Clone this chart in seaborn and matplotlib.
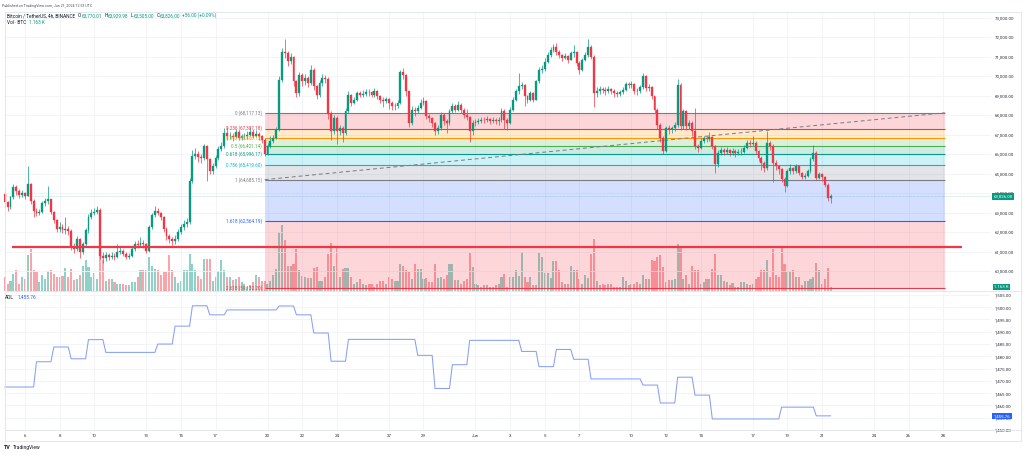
import numpy as np
import pandas as pd
import matplotlib
matplotlib.use("Agg")
import matplotlib.pyplot as plt
import matplotlib.dates as mdates
import seaborn as sns

sns.set_theme(style="white")
plt.rcParams["font.family"] = ["Roboto", "DejaVu Sans"]

# ---------------- data (BTC/USDT 4h, Binance) ----------------
first_open = 63950.0
closes = [
    63520, 63270, 63780, 64290, 64110, 63900, 63980, 63870, 64450, 63600,
    63100, 63000, 63050, 63500, 63600, 63680, 63020, 62600, 62150, 62250,
    62100, 62150, 62050, 61250, 61150, 61650, 60980, 61400, 62080, 62750,
    63000, 63050, 63150, 60750, 60650, 60800, 60720, 60780, 60700, 60980,
    61050, 60880, 60720, 60750, 61150, 61400, 61350, 61450, 61400, 61050,
    62250, 62850, 63100, 63000, 62750, 62150, 61800, 61650, 61560, 61650,
    62000, 62250, 62400, 62500, 64620, 65900, 66000, 65850, 65800, 66400,
    65720, 65130, 65400, 65800, 66240, 66400, 67090, 66900, 66950, 66850,
    67150, 66830, 66900, 66950, 67000, 67150, 66950, 67050, 66900, 66700,
    66000, 66400, 66650, 66830, 67250, 69800, 71250, 71170, 70750, 71000,
    69720, 69130, 70060, 69720, 69900, 69650, 70330, 69470, 69050, 69640,
    69900, 69850, 68030, 67170, 67850, 67170, 67350, 67090, 68200, 69050,
    68620, 68790, 69130, 69050, 69100, 69200, 69180, 69050, 69250, 68960,
    68790, 68700, 68800, 68620, 68450, 68450, 68620, 70230, 70060, 69210,
    67600, 68280, 68200, 68360, 68620, 68700, 67940, 67850, 67600, 67170,
    67350, 68020, 67680, 67600, 68200, 68450, 68280, 68530, 68280, 68020,
    67900, 67170, 67600, 67650, 67700, 67750, 67720, 67780, 67700, 67750,
    67680, 67720, 68200, 67770, 67600, 68280, 68790, 69210, 69470, 69550,
    68960, 68790, 69130, 68790, 69720, 70320, 70370, 70740, 71080, 71340,
    71510, 71250, 71080, 70950, 71050, 70830, 71170, 71250, 70660, 70320,
    70830, 71080, 71510, 71000, 69130, 69250, 69350, 69300, 69250, 69350,
    69250, 69130, 69080, 69180, 69300, 69590, 69520, 69590, 69250, 69210,
    69420, 69980, 69380, 69420, 68960, 68280, 67510, 66830, 66150, 67340,
    67260, 67310, 67510, 69550, 67430, 68190, 67430, 67600, 67170, 66410,
    66320, 66660, 66800, 66750, 66870, 66410, 65470, 66070, 66190, 66120,
    66190, 66070, 66150, 66050, 66100, 66120, 66320, 66580, 66490, 66580,
    66150, 65810, 65560, 65300, 66580, 66410, 65560, 65390, 65220, 64710,
    64370, 65130, 65270, 65130, 65390, 65050, 64830, 64880, 65130, 65730,
    66070, 64790, 64960, 64800, 64420, 63770, 63826,
]
highs = [
    64150, 63600, 63850, 64450, 64400, 64200, 64150, 64050, 65400, 64500,
    63700, 63250, 63200, 63600, 63750, 64350, 63700, 63100, 62650, 62500,
    62400, 62750, 62300, 62150, 61450, 61800, 61700, 61500, 62200, 62900,
    63200, 63250, 63350, 63250, 60950, 60950, 60900, 60950, 60900, 61400,
    61250, 61150, 60950, 60900, 61250, 61550, 61600, 61750, 61600, 61450,
    62350, 62950, 63350, 63250, 63050, 62800, 62250, 61900, 61750, 61850,
    62150, 62400, 62600, 62700, 64750, 66200, 66300, 66150, 66000, 66500,
    66450, 65800, 65550, 65950, 66400, 66600, 67350, 67400, 67150, 67100,
    67300, 67250, 67050, 67100, 67200, 67400, 67300, 67250, 67150, 67000,
    66800, 66550, 66900, 67000, 67400, 70000, 71450, 71900, 71300, 71200,
    71050, 69800, 70200, 70150, 70100, 70000, 70550, 70400, 69550, 69800,
    70100, 70050, 69950, 68200, 68000, 67950, 67500, 67450, 68350, 69250,
    69100, 68950, 69250, 69250, 69300, 69350, 69350, 69250, 69400, 69300,
    69050, 68900, 68950, 68850, 68700, 68600, 68750, 70300, 70400, 70100,
    69250, 68450, 68400, 68500, 68800, 68900, 68750, 68050, 67900, 67650,
    67500, 68150, 68100, 67800, 68300, 68600, 68550, 68700, 68600, 68350,
    68300, 67950, 67750, 67800, 67850, 67900, 67900, 67950, 67850, 67900,
    67850, 67900, 68350, 68300, 67850, 68400, 68900, 69350, 70150, 69700,
    69600, 69050, 69250, 69200, 69800, 70450, 70550, 70900, 71250, 71500,
    71650, 71700, 71350, 71150, 71200, 71100, 71300, 71600, 71300, 70750,
    70950, 71250, 71900, 71600, 71100, 69450, 69500, 69450, 69450, 69500,
    69400, 69350, 69250, 69300, 69450, 69700, 69700, 69750, 69650, 69400,
    69550, 70150, 70050, 69600, 69500, 69000, 68350, 67600, 66900, 67450,
    67500, 67450, 67650, 69850, 69650, 68300, 68250, 67750, 67700, 68350,
    66500, 66800, 66950, 66950, 67150, 66950, 66450, 66200, 66350, 66300,
    66350, 66250, 66300, 66250, 66250, 66300, 66450, 66700, 66700, 66900,
    66650, 66200, 65900, 65650, 67200, 66650, 66500, 65700, 65450, 65300,
    64800, 65250, 65500, 65350, 65500, 65450, 65100, 65050, 65250, 65850,
    66450, 66150, 65100, 65050, 64850, 64500, 63930,
]
lows = [
    63300, 63100, 63200, 63700, 63900, 63750, 63780, 63700, 63850, 63450,
    62750, 62800, 62850, 62950, 63350, 63450, 62900, 62450, 62000, 62000,
    61950, 61900, 61850, 61100, 60900, 61050, 60650, 60850, 61300, 61950,
    62650, 62850, 62900, 60600, 60400, 60500, 60550, 60600, 60550, 60650,
    60850, 60750, 60600, 60600, 60700, 61050, 61200, 61250, 61200, 60900,
    60950, 62150, 62750, 62850, 62600, 62000, 61600, 61450, 61350, 61400,
    61550, 61900, 62100, 62250, 62400, 64500, 65750, 65600, 65550, 65700,
    64600, 64950, 65000, 65300, 65700, 66150, 66300, 66700, 66750, 66650,
    66800, 66700, 66700, 66750, 66750, 66900, 66800, 66850, 66700, 66550,
    65900, 65950, 66300, 66550, 66750, 67200, 69700, 70950, 70500, 70600,
    69500, 68900, 69000, 69500, 69550, 69450, 69550, 69300, 68800, 68950,
    69500, 69650, 67800, 66700, 67050, 66500, 67000, 66600, 67000, 68100,
    68450, 68550, 68700, 68900, 68950, 69000, 69000, 68900, 68950, 68800,
    68600, 68400, 68600, 68300, 68250, 68250, 68350, 68550, 69850, 69000,
    67400, 67500, 67950, 68100, 68300, 68500, 67800, 67650, 67400, 67000,
    67050, 67250, 67500, 67100, 67500, 68100, 68150, 68200, 68100, 67850,
    67750, 66600, 67000, 67450, 67550, 67600, 67600, 67650, 67550, 67600,
    67550, 67500, 67650, 67300, 67250, 67550, 68200, 68700, 69100, 69350,
    68450, 68600, 68700, 68650, 68750, 69650, 70150, 70250, 70650, 71000,
    71250, 71100, 70900, 70750, 70850, 70650, 70800, 71000, 70500, 70100,
    70250, 70750, 71000, 70850, 68400, 68950, 69100, 69150, 69050, 69150,
    69100, 68950, 68950, 69000, 69100, 69250, 69400, 69400, 69100, 69050,
    69150, 69350, 69250, 69250, 68800, 68100, 67300, 66600, 65980, 66100,
    67050, 67100, 67200, 67400, 67250, 67300, 67250, 67300, 66950, 66250,
    66100, 66250, 66550, 66600, 66650, 66250, 65050, 65350, 65950, 65950,
    66000, 65900, 65950, 65850, 65950, 65950, 66050, 66250, 66350, 66400,
    66000, 65650, 65200, 65100, 65200, 66200, 64550, 65200, 65000, 64550,
    64050, 64300, 65000, 64950, 65050, 64900, 64700, 64700, 64800, 65050,
    65650, 64650, 64700, 64600, 64300, 63600, 63505,
]
# volume in thousands of BTC
volume_k = [
    4.4, 2.2, 3.3, 5.5, 6.7, 2.0, 4.4, 3.9, 11.7, 13.9,
    6.7, 6.0, 2.8, 5.0, 3.9, 6.4, 6.9, 5.6, 4.6, 4.4,
    4.7, 7.6, 4.4, 7.2, 3.6, 3.9, 5.0, 8.3, 10.2, 7.8,
    4.4, 5.8, 3.9, 13.9, 10.0, 3.1, 3.9, 3.9, 2.8, 2.2,
    2.0, 2.0, 1.7, 1.7, 2.8, 2.8, 4.4, 6.7, 6.9, 6.9,
    11.1, 8.3, 7.2, 6.9, 5.0, 6.1, 6.1, 11.7, 6.7, 4.4,
    2.4, 3.1, 6.7, 6.7, 12.2, 8.9, 6.7, 4.7, 3.9, 10.4,
    10.4, 10.4, 3.3, 4.4, 6.4, 10.0, 6.7, 4.4, 4.4, 3.6,
    3.9, 4.4, 2.8, 2.2, 1.3, 1.7, 2.8, 5.0, 4.4, 3.1,
    3.0, 2.2, 3.3, 5.0, 7.2, 19.4, 21.7, 16.7, 8.3, 8.3,
    8.9, 13.9, 6.7, 4.7, 4.4, 4.2, 4.2, 7.6, 7.8, 3.1,
    3.3, 4.4, 12.0, 15.9, 8.3, 14.7, 4.4, 7.2, 7.6, 7.6,
    4.4, 2.2, 2.8, 3.9, 2.2, 1.7, 2.2, 2.2, 1.3, 2.2,
    3.1, 3.3, 2.2, 4.4, 3.9, 3.3, 3.3, 8.9, 8.3, 6.7,
    6.1, 3.9, 8.9, 7.2, 7.2, 3.9, 4.2, 2.8, 2.8, 8.9,
    4.2, 4.4, 3.9, 5.2, 8.9, 8.9, 3.6, 3.6, 2.2, 3.1,
    3.9, 12.4, 7.8, 2.2, 1.7, 1.3, 1.7, 1.7, 1.3, 1.3,
    1.7, 2.2, 4.4, 5.6, 1.3, 4.4, 4.4, 6.9, 4.7, 12.8,
    4.4, 2.8, 4.4, 1.7, 1.7, 12.4, 11.1, 5.8, 5.8, 4.2,
    9.7, 9.7, 6.7, 2.8, 2.2, 2.2, 8.0, 6.9, 6.9, 3.9,
    2.2, 5.0, 4.2, 12.2, 17.2, 3.3, 1.7, 2.2, 1.7, 2.2,
    2.2, 1.3, 1.1, 1.1, 4.4, 3.1, 1.7, 2.2, 2.2, 2.8,
    2.2, 5.2, 3.9, 3.9, 10.0, 9.8, 11.1, 11.7, 7.8, 2.8,
    3.6, 3.6, 3.9, 15.6, 14.4, 3.9, 5.0, 2.2, 8.3, 6.7,
    6.7, 2.2, 2.8, 3.9, 3.9, 7.2, 12.0, 5.0, 5.0, 3.1,
    2.8, 1.7, 2.4, 1.1, 1.3, 2.8, 2.8, 2.2, 1.7, 2.2,
    3.9, 4.4, 6.7, 6.7, 10.2, 4.4, 13.9, 5.0, 4.4, 14.4,
    8.9, 6.1, 6.1, 6.7, 4.4, 4.4, 1.7, 3.3, 3.3, 3.9,
    4.4, 9.1, 6.7, 2.2, 3.9, 7.6, 1.163,
]

# ADL: daily value and how many 4h bars each value is shown for
adl_levels = [1467.5, 1477.8, 1483.8, 1479.0, 1486.8, 1481.6, 1485.0, 1492.3,
              1500.6, 1496.9, 1498.9, 1500.5, 1496.9, 1489.5, 1478.0, 1486.9,
              1480.4, 1466.9, 1476.6, 1486.5, 1482.0, 1475.8, 1482.8, 1478.8,
              1470.8, 1468.3, 1461.0, 1471.5, 1464.2, 1454.5, 1459.3, 1455.76]
adl_bars = [11, 6, 6, 6, 6, 18, 6, 6, 6, 6, 18, 6, 6, 6, 6, 24,
            6, 6, 6, 18, 6, 6, 6, 6, 18, 6, 6, 6, 6, 24, 12, 6]

# fib retracement drawing
fib_ratios = ["0", "0.236", "0.382", "0.5", "0.618", "0.786", "1", "1.618", "2.618"]
fib_prices = [68117.13, 67307.18, 66806.13, 66401.14, 65996.17, 65419.60,
              64685.15, 62564.19, 59132.20]
fib_colors = ["#787b86", "#f23645", "#ff9800", "#4caf50", "#089981",
              "#00bcd4", "#787b86", "#2962ff", "#f23645"]
fib_span = ["2024-05-19 20:00", "2024-06-28 02:00"]

support_price = 61250
support_span = ["2024-05-05 06:00", "2024-06-29 02:00"]

tick_dates = ["2024-05-06", "2024-05-08", "2024-05-10", "2024-05-13", "2024-05-15",
              "2024-05-17", "2024-05-20", "2024-05-22", "2024-05-24", "2024-05-27",
              "2024-05-29", "2024-06-01", "2024-06-03", "2024-06-05", "2024-06-07",
              "2024-06-10", "2024-06-12", "2024-06-14", "2024-06-17", "2024-06-19",
              "2024-06-21", "2024-06-24", "2024-06-26", "2024-06-28"]
tick_labels = ["6", "8", "10", "13", "15", "17", "20", "22", "24", "27", "29", "Jun",
               "3", "5", "7", "10", "12", "14", "17", "19", "21", "24", "26", "28"]
price_ticks = list(range(60000, 73001, 1000))
adl_ticks = list(range(1450, 1506, 5))

# ---------------- build frames ----------------
UP, DN = "#089981", "#f23645"
times = pd.date_range("2024-05-04 20:00", periods=len(closes), freq="4h")
bars = pd.DataFrame({"time": times, "open": [first_open] + closes[:-1],
                     "high": highs, "low": lows, "close": closes, "vol": volume_k})
bars["x"] = mdates.date2num(bars["time"])
bars["color"] = np.where(bars["close"] >= bars["open"], UP, DN)
adl = pd.DataFrame({"x": bars["x"], "adl": np.repeat(adl_levels, adl_bars)})

W, H = 1024, 455
fig = plt.figure(figsize=(W / 100, H / 100), dpi=100)
fig.patch.set_facecolor("white")


def rect(l, t, r, b):
    return [l / W, 1 - b / H, (r - l) / W, (b - t) / H]


ax = fig.add_axes(rect(4, 11.7, 991, 290.5))
axv = ax.twinx()
ax2 = fig.add_axes(rect(4, 291.5, 991, 430), sharex=ax)
ax.set_zorder(axv.get_zorder() + 1)
ax.patch.set_visible(False)
axv.set_axis_off()

# volume
axv.bar(bars["x"], bars["vol"], width=0.12, color=bars["color"], alpha=0.45, lw=0)
axv.set_ylim(0, 92.9)

# fib bands, lines and labels
fx0, fx1 = mdates.date2num(pd.to_datetime(fib_span))
for i in range(len(fib_prices) - 1):
    ax.fill_between([fx0, fx1], fib_prices[i], fib_prices[i + 1],
                    color=fib_colors[i + 1], alpha=0.2, lw=0, zorder=1)
for r, p, c in zip(fib_ratios, fib_prices, fib_colors):
    ax.hlines(p, fx0, fx1, color=c, lw=0.8, zorder=2)
    ax.annotate(f"{r} ({p:,.2f})", xy=(fx0, p), xytext=(-2, 0), textcoords="offset points",
                ha="right", va="center", fontsize=3.3, color=c, zorder=7)
ax.plot([fx0, fx1], [fib_prices[6], fib_prices[0]], color="#787b86", lw=0.7,
        ls=(0, (4, 3)), zorder=2.5)

# last price line
ax.axhline(closes[-1], color=UP, lw=0.5, alpha=0.35, ls=(0, (1, 1)), zorder=2.6)

# candles
ax.vlines(bars["x"], bars["low"], bars["high"], colors=bars["color"], lw=0.5, zorder=4)
ax.bar(bars["x"], bars["close"] - bars["open"], bottom=bars["open"], width=0.11,
       color=bars["color"], edgecolor=bars["color"], lw=0.25, zorder=5)

# support line
sx0, sx1 = mdates.date2num(pd.to_datetime(support_span))
ax.hlines(support_price, sx0, sx1, color="#f23645", lw=1.6, zorder=6)

# ADL panel
sns.lineplot(data=adl, x="x", y="adl", ax=ax2, color="#86a0f6", lw=0.75)
ax2.set_xlabel("")
ax2.set_ylabel("")

# axes styling
for a in (ax, ax2):
    a.yaxis.tick_right()
    a.tick_params(axis="y", length=0, pad=3, labelsize=3.2, labelcolor="#2a2e39")
    a.grid(True, color="#f0f3fa", lw=0.6)
    a.set_axisbelow(True)
    for s in a.spines.values():
        s.set_visible(False)
ax.set_ylim(59000, 73300)
ax.set_yticks(price_ticks)
ax.set_yticklabels([f"{v:,.2f}" for v in price_ticks])
ax2.set_ylim(1450, 1506.4)
ax2.set_yticks(adl_ticks)
ax2.set_yticklabels([f"{v:,.2f}" for v in adl_ticks])
ax2.set_xticks(mdates.date2num(pd.to_datetime(tick_dates)))
ax2.set_xticklabels(tick_labels)
ax2.tick_params(axis="x", length=0, pad=3, labelsize=3.2, labelcolor="#2a2e39")
ax.tick_params(axis="x", length=0, labelbottom=False)
ax.set_xlim(mdates.date2num(pd.to_datetime(["2024-05-04 19:00", "2024-06-30 18:00"])))

# price scale badges
badge = dict(boxstyle="square,pad=0.3", ec="none")
ax.annotate(f"{closes[-1]:,.2f}", xy=(1, closes[-1]), xycoords=("axes fraction", "data"),
            xytext=(2, 0), textcoords="offset points", ha="left", va="center",
            fontsize=3.2, color="white", bbox=dict(badge, fc=UP), annotation_clip=False)
axv.annotate(f"{volume_k[-1]:.3f} K", xy=(1, volume_k[-1]), xycoords=("axes fraction", "data"),
             xytext=(2.5, 0), textcoords="offset points", ha="left", va="center",
             fontsize=3.2, color="white", bbox=dict(badge, fc=UP), annotation_clip=False)
ax2.annotate(f"{adl_levels[-1]:,.2f}", xy=(1, adl_levels[-1]), xycoords=("axes fraction", "data"),
             xytext=(2, 0), textcoords="offset points", ha="left", va="center",
             fontsize=3.2, color="white", bbox=dict(badge, fc="#2962ff"), annotation_clip=False)

# overlay in pixel coordinates for frame and legend text
ov = fig.add_axes([0, 0, 1, 1])
ov.set_xlim(0, W)
ov.set_ylim(H, 0)
ov.set_axis_off()
ov.set_zorder(10)
frame = "#e0e3eb"
ov.plot([5, 1021, 1021, 5, 5], [11.7, 11.7, 441, 441, 11.7], color=frame, lw=0.6)
ov.plot([5, 1021], [291, 291], color=frame, lw=0.6)
ov.plot([5, 1021], [430, 430], color=frame, lw=0.6)

DARK = "#131722"


def chain(x, y, parts, size):
    t = ov.text(x, y, parts[0][0], color=parts[0][1], fontsize=size, ha="left", va="bottom")
    for s, c, gap in parts[1:]:
        t = ov.annotate(s, xy=(1, 0), xycoords=t, xytext=(gap, 0), textcoords="offset points",
                        color=c, fontsize=size, ha="left", va="bottom")


ov.text(2, 5.7, "Published on TradingView.com, Jun 21, 2024 12:53 UTC",
        fontsize=2.6, color="#50535e", ha="left", va="center")
chain(7, 18.3, [("Bitcoin / TetherUS, 4h, BINANCE", DARK),
                ("O", DARK, 2.2), ("63,770.01", UP, 0.2),
                ("H", DARK, 1.6), ("63,929.98", UP, 0.2),
                ("L", DARK, 1.6), ("63,505.00", UP, 0.2),
                ("C", DARK, 1.6), ("63,826.00", UP, 0.2),
                ("+56.00 (+0.09%)", UP, 1.6)], 3.4)
chain(7, 25.0, [("Vol · BTC", DARK), ("1.163 K", UP, 2.2)], 3.4)
chain(5, 300.0, [("ADL", DARK), (f"{adl_levels[-1]:,.2f}", "#2962ff", 2.4)], 3.5)
ov.text(4, 447.7, "TV", fontsize=3.9, color=DARK, fontweight="bold", ha="left", va="center")
ov.text(13, 447.7, "TradingView", fontsize=3.6, color=DARK, ha="left", va="center")

fig.savefig("out.png", dpi=100, facecolor="white")
